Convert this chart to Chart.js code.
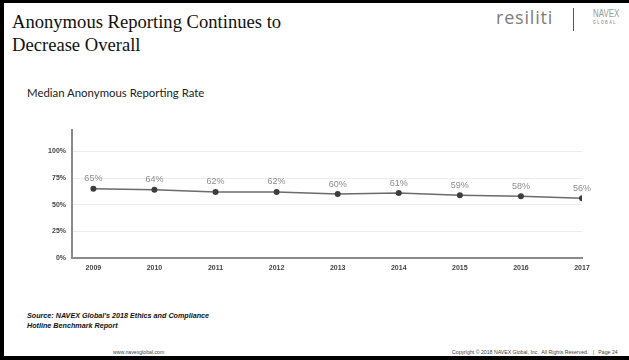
<!DOCTYPE html>
<html>
<head>
<meta charset="utf-8">
<script src="https://cdn.jsdelivr.net/npm/chart.js@4.4.1/dist/chart.umd.min.js"></script>
<style>
  html, body { margin: 0; padding: 0; background: #fff; }
  body { width: 629px; height: 360px; position: relative; overflow: hidden; }
  .frame { position: absolute; left: 0; top: 0; right: 0; bottom: 0;
           border-top: 3px solid #000; border-left: 4px solid #000; border-bottom: 4px solid #000; }
  .title { position: absolute; left: 12px; top: 10px; font: 18.6px/23px "Liberation Serif", serif; color: #111; }
  .logo-a { position: absolute; left: 496px; top: 5px; font: 18px "Open Sans", sans-serif; color: #7d7d7d; letter-spacing: 0.8px; }
  .logo-bar { position: absolute; left: 573px; top: 8px; width: 1px; height: 23px; background: #555; }
  .logo-b { position: absolute; left: 593px; top: 8px; font: 11px "Liberation Sans", sans-serif; color: #999;
            line-height: 11px; transform: scaleX(0.72); transform-origin: left top; }
  .logo-b small { display: block; font-size: 5px; font-weight: bold; letter-spacing: 2px; line-height: 6px; }
  .subtitle { position: absolute; left: 27px; top: 86px; font: 11.4px "Lato", sans-serif; color: #222; }
  .chart-box { position: absolute; left: 20px; top: 120px; width: 580px; height: 160px; }
  .source { position: absolute; left: 27px; top: 311px; font: italic bold 7.2px/9.5px "Liberation Sans", sans-serif; color: #111; }
  .foot { position: absolute; top: 349px; font: 5.2px "Liberation Sans", sans-serif; color: #444; white-space: pre; }
</style>
</head>
<body>
<div class="frame"></div>
<div class="title">Anonymous Reporting Continues to<br>Decrease Overall</div>
<div class="logo-a">resiliti</div>
<div class="logo-bar"></div>
<div class="logo-b">NAVEX<small>GLOBAL</small></div>
<div class="subtitle">Median Anonymous Reporting Rate</div>
<div class="chart-box"><canvas id="chart"></canvas></div>
<div class="source">Source: NAVEX Global's 2018 Ethics and Compliance<br>Hotline Benchmark Report</div>
<div class="foot" style="left:113px">www.navexglobal.com</div>
<div class="foot" style="left:452px">Copyright © 2018 NAVEX Global, Inc.  All Rights Reserved.   |   Page 24</div>

<script>
const years = [2009, 2010, 2011, 2012, 2013, 2014, 2015, 2016, 2017];
const rates = [65, 64, 62, 62, 60, 61, 59, 58, 56];
const yTicks = [0, 25, 50, 75, 100];

// percentage labels above each point
const pointLabels = {
  id: 'pointLabels',
  afterDatasetsDraw(chart) {
    const ctx = chart.ctx;
    const meta = chart.getDatasetMeta(0);
    ctx.save();
    ctx.font = '9px "Liberation Sans", sans-serif';
    ctx.fillStyle = '#8c8c8c';
    ctx.textAlign = 'center';
    ctx.textBaseline = 'middle';
    meta.data.forEach((pt, i) => {
      ctx.fillText(rates[i] + '%', pt.x, pt.y - 10);
    });
    ctx.restore();
  }
};

new Chart(document.getElementById('chart'), {
  type: 'line',
  data: {
    datasets: [{
      data: years.map((y, i) => ({ x: y, y: rates[i] })),
      borderColor: '#6b6b6b',
      borderWidth: 1.5,
      pointRadius: 3,
      pointBackgroundColor: '#3d3d3d',
      pointBorderWidth: 0,
      tension: 0
    }]
  },
  options: {
    responsive: true,
    maintainAspectRatio: false,
    animation: false,
    layout: { padding: { top: 10, right: 18, left: 0, bottom: 0 } },
    plugins: { legend: { display: false }, tooltip: { enabled: false } },
    scales: {
      x: {
        type: 'linear',
        min: 2008.65,
        max: 2017,
        afterBuildTicks: s => { s.ticks = years.map(v => ({ value: v })); },
        afterFit: s => { s.height = 22; },
        grid: { display: false, drawTicks: false },
        border: { color: '#8a8a8a', width: 2 },
        ticks: {
          padding: 6,
          color: '#444',
          font: { family: '"Liberation Sans", sans-serif', size: 7, weight: 'bold' },
          callback: v => String(v)
        }
      },
      y: {
        min: 0,
        max: 120,
        afterBuildTicks: s => { s.ticks = yTicks.map(v => ({ value: v })); },
        afterFit: s => { s.width = 52; },
        grid: {
          drawTicks: false,
          color: c => (c.tick && c.tick.value === 0 ? 'rgba(0,0,0,0)' : '#ececec'),
          lineWidth: 1
        },
        border: { color: '#8a8a8a', width: 2 },
        ticks: {
          padding: 6,
          color: '#444',
          font: { family: '"Liberation Sans", sans-serif', size: 7, weight: 'bold' },
          callback: v => v + '%'
        }
      }
    }
  },
  plugins: [pointLabels]
});
</script>
</body>
</html>
